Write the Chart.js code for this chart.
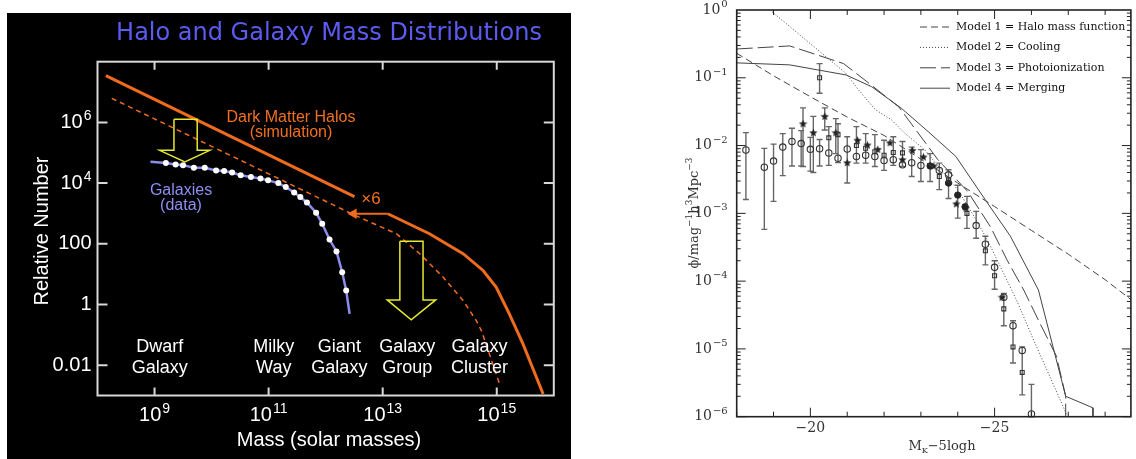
<!DOCTYPE html>
<html>
<head>
<meta charset="utf-8">
<script src="https://cdn.jsdelivr.net/npm/chart.js@4.4.0/dist/chart.umd.min.js"></script>
<style>
  body { margin: 0; background: #fff; width: 1136px; height: 459px; overflow: hidden; position: relative; }
  #massChart { position: absolute; left: 7px; top: 13px; background: #000; }
  #lumChart { position: absolute; left: 660px; top: 0; background: #fff; }
</style>
</head>
<body>
<canvas id="massChart" width="564" height="446"></canvas>
<canvas id="lumChart" width="476" height="459"></canvas>
<script>
// ---------- left panel: halo and galaxy mass distributions ----------
const massTicks = [1e9, 1e11, 1e13, 1e15];
const massTickLabels = ['10^9', '10^11', '10^13', '10^15'];
const numTicks = [1e6, 1e4, 100, 1, 0.01];
const numTickLabels = ['10^6', '10^4', '100', '1', '0.01'];

// dark matter halos (simulation), dashed
const haloMass = [1.78e8, 3.24e12, 1.74e13, 4.47e13, 1.15e14, 2.57e14, 4.37e14, 5.37e14, 1.12e15];
const haloNum = [6.2e6, 871, 214, 46.8, 7.9, 1.35, 0.295, 0.138, 2.4e-3];
// halos x6, solid (upper piece and the piece after the arrow)
const halo6UpMass = [1.4e8, 3.2e12];
const halo6UpNum = [3.5e7, 3.6e3];
const halo6LowMass = [1.23e13, 6.6e13, 2.57e14, 5.75e14, 9.8e14, 1.66e15, 2.88e15, 6.5e15];
const halo6LowNum = [977, 214, 47, 13.2, 3.7, 0.49, 0.05, 1.12e-3];
const x6ArrowMass = [1.23e13, 3.1e12];
const x6ArrowNum = [977, 977];
// galaxies (data)
const galMass = [8.5e8, 1.58e9, 2.34e9, 3.16e9, 4.9e9, 7.6e9, 1.2e10, 1.66e10, 2.29e10, 3.24e10, 4.9e10, 7.2e10,
  9.8e10, 1.48e11, 2.0e11, 2.8e11, 3.6e11, 4.7e11, 6.8e11, 8.7e11, 1.17e12, 1.55e12, 1.95e12, 2.29e12, 2.63e12];
const galNum = [5.0e4, 4.6e4, 4.1e4, 3.9e4, 3.2e4, 3.2e4, 2.6e4, 2.5e4, 2.24e4, 1.82e4, 1.58e4, 1.41e4,
  1.23e4, 1.0e4, 7.4e3, 4.9e3, 3.5e3, 2.3e3, 1.05e3, 457, 138, 56, 11.5, 2.9, 0.49];
// hollow yellow arrows
const arrow1Mass = [2.19e9, 5.6e9, 5.6e9, 9.3e9, 3.4e9, 1.23e9, 2.19e9, 2.19e9];
const arrow1Num = [1.26e6, 1.26e6, 1.2e5, 1.2e5, 5.0e4, 1.2e5, 1.2e5, 1.26e6];
const arrow2Mass = [2.0e13, 5.1e13, 5.1e13, 8.5e13, 3.16e13, 1.2e13, 2.0e13, 2.0e13];
const arrow2Num = [120, 120, 1.41, 1.41, 0.31, 1.41, 1.41, 120];

const sizeNames = [['Dwarf', 'Galaxy'], ['Milky', 'Way'], ['Giant', 'Galaxy'], ['Galaxy', 'Group'], ['Galaxy', 'Cluster']];
const sizeMass = [1.23e9, 1.23e11, 1.74e12, 2.7e13, 5.0e14];

// ---------- right panel: K-band luminosity function ----------
const magTickVals = [-20, -25];
const magTickLabels = ['\u221220', '\u221225'];
const phiTickVals = [1, 0.1, 0.01, 1e-3, 1e-4, 1e-5, 1e-6];
const phiTickLabels = ['10^0', '10^\u22121', '10^\u22122', '10^\u22123', '10^\u22124', '10^\u22125', '10^\u22126'];

const modelNames = ['Model 1 = Halo mass function', 'Model 2 = Cooling', 'Model 3 = Photoionization', 'Model 4 = Merging'];
const m1Mag = [-18, -19, -20, -21, -22, -23, -24, -25, -26, -27, -28, -29];
const m1Phi = [0.23, 0.107, 0.0525, 0.0263, 0.0141, 6.3e-3, 2.8e-3, 1.26e-3, 5.6e-4, 2.5e-4, 1.05e-4, 4.0e-5];
const m2Mag = [-18.9, -20.96, -21.31, -21.76, -22.2, -22.57, -23.1, -23.55, -24.0, -24.45, -24.8, -25.16, -25.6, -26.06, -26.5, -26.9, -26.97];
const m2Phi = [1.0, 0.117, 0.066, 0.034, 0.024, 0.0151, 8.7e-3, 4.4e-3, 2.24e-3, 8.9e-4, 4.1e-4, 1.62e-4, 5.2e-5, 1.35e-5, 3.9e-6, 1.26e-6, 1.0e-6];
const m3Mag = [-18.0, -19.44, -20.9, -21.66, -22.4, -22.66, -23.46, -24.27, -24.89, -25.34, -25.79, -26.23, -26.68, -26.93, -26.93];
const m3Phi = [0.266, 0.295, 0.162, 0.0776, 0.0372, 0.024, 6.2e-3, 2.1e-3, 6.3e-4, 2.04e-4, 7.4e-5, 2.4e-5, 7.8e-6, 2.0e-6, 1.0e-6];
const m4Mag = [-18.0, -19.44, -20.97, -21.66, -22.47, -23.19, -23.95, -24.62, -25.0, -25.43, -26.19, -26.93, -27.67, -27.67];
const m4Phi = [0.166, 0.155, 0.11, 0.074, 0.0355, 0.0162, 6.9e-3, 2.0e-3, 1.0e-3, 4.6e-4, 7.4e-5, 2.0e-6, 1.35e-6, 1.0e-6];

// observed points
const circMag = [-18.25, -18.75, -19, -19.25, -19.5, -19.75, -20, -20.25, -20.5, -20.75, -21, -21.25, -21.5, -21.75,
  -22, -22.25, -22.5, -22.75, -23, -23.5, -23.75, -24.5, -24.75, -25, -25.25, -25.5, -25.75, -26];
const circPhi = [8.6e-3, 4.8e-3, 5.9e-3, 9.5e-3, 1.15e-2, 1.07e-2, 8.8e-3, 9.0e-3, 7.8e-3, 6.5e-3, 8.9e-3, 6.9e-3, 7.2e-3, 6.9e-3,
  6.0e-3, 6.2e-3, 5.2e-3, 5.6e-3, 5.1e-3, 4.3e-3, 3.7e-3, 6.6e-4, 3.5e-4, 1.6e-4, 5.8e-5, 2.2e-5, 9.5e-6, 1.1e-6];
const sqMag = [-20.25, -20.5, -20.75, -21.25, -21.5, -21.75, -22, -22.25, -22.5, -23.5, -23.75, -24.25, -24.75, -25, -25.25, -25.5, -25.75];
const sqPhi = [0.1, 1.3e-2, 1.45e-2, 1.0e-2, 9.1e-3, 8.1e-3, 7.2e-3, 7.9e-3, 7.8e-3, 3.5e-3, 3.1e-3, 1.0e-3, 2.8e-4, 1.2e-4, 3.9e-5, 1.07e-5, 4.5e-6];
const starMag = [-19.8, -20.08, -20.39, -20.69, -21.0, -21.28, -21.55, -21.83, -22.16, -22.5, -22.77, -23.07, -23.35, -23.96, -24.22, -25.2];
const starPhi = [2.1e-2, 1.55e-2, 2.7e-2, 1.55e-2, 5.6e-3, 1.2e-2, 1.02e-2, 8.8e-3, 1.1e-2, 6.2e-3, 8.5e-3, 6.8e-3, 5.0e-3, 1.38e-3, 1.2e-3, 5.8e-5];
const dotMag = [-23.25, -23.75, -24.0, -24.2];
const dotPhi = [5.0e-3, 2.8e-3, 1.86e-3, 1.25e-3];
const errMag = [-18.25, -18.75, -19, -19.25, -19.5, -19.75, -19.8, -20, -20.08, -20.25, -20.25, -20.39, -20.5, -20.69, -20.75, -21,
  -21.25, -21.5, -21.75, -22, -22.25, -22.5, -22.75, -23, -23.25, -23.5, -23.75, -24, -24.25, -24.5, -24.75, -25, -25.25, -25.5, -25.75, -26];
const errLo = [1.6e-3, 5.8e-4, 1.5e-3, 3.6e-3, 5.0e-3, 5.0e-3, 4.9e-3, 4.2e-3, 4.0e-3, 5.0e-3, 5.9e-2, 1.7e-2, 5.1e-3, 7.6e-3, 5.6e-3, 2.8e-3,
  5.5e-3, 5.5e-3, 4.9e-3, 4.3e-3, 5.1e-3, 4.9e-3, 3.5e-3, 2.95e-3, 2.95e-3, 2.24e-3, 1.66e-3, 8.5e-4, 6.0e-4, 4.3e-4, 1.74e-4, 7.6e-5, 2.2e-5, 6.2e-6, 2.1e-6, 1.0e-6];
const errHi = [1.55e-2, 9.1e-3, 1.05e-2, 1.5e-2, 1.8e-2, 1.66e-2, 3.6e-2, 1.32e-2, 2.7e-2, 1.23e-2, 1.62e-1, 3.6e-2, 1.9e-2, 2.5e-2, 2.1e-2, 1.35e-2,
  1.9e-2, 1.5e-2, 1.45e-2, 1.2e-2, 1.35e-2, 1.15e-2, 9.5e-3, 8.7e-3, 7.6e-3, 5.5e-3, 4.4e-3, 2.6e-3, 1.78e-3, 1.07e-3, 4.6e-4, 2.0e-4, 6.6e-5, 2.6e-5, 1.07e-5, 3.0e-6];

function pts(xs, ys) {
  return xs.map((x, i) => ({ x: x, y: ys[i] }));
}

// "10^6" -> 10 with a raised exponent
function drawPow(ctx, label, x, y, size, family, align, raise) {
  const parts = label.split('^');
  const small = Math.round(size * 0.68);
  ctx.font = size + 'px ' + family;
  const w1 = ctx.measureText(parts[0]).width;
  let w2 = 0;
  if (parts[1]) {
    ctx.font = small + 'px ' + family;
    w2 = ctx.measureText(parts[1]).width + 1;
  }
  let x0 = x;
  if (align === 'right') x0 = x - w1 - w2;
  if (align === 'center') x0 = x - (w1 + w2) / 2;
  ctx.textAlign = 'left';
  ctx.textBaseline = 'middle';
  ctx.font = size + 'px ' + family;
  ctx.fillText(parts[0], x0, y);
  if (parts[1]) {
    ctx.font = small + 'px ' + family;
    ctx.fillText(parts[1], x0 + w1 + 1, y - size * raise);
  }
}

const SANS = '"Liberation Sans", Arial, sans-serif';

const massDecor = {
  id: 'massDecor',
  afterDraw(chart) {
    const ctx = chart.ctx;
    const a = chart.chartArea;
    const xs = chart.scales.x, ys = chart.scales.y;
    ctx.save();
    // frame and inward ticks
    ctx.strokeStyle = '#d8d8d8';
    ctx.lineWidth = 2;
    ctx.strokeRect(a.left, a.top, a.right - a.left, a.bottom - a.top);
    ctx.beginPath();
    numTicks.forEach(v => {
      const py = ys.getPixelForValue(v);
      ctx.moveTo(a.left, py); ctx.lineTo(a.left + 10, py);
      ctx.moveTo(a.right, py); ctx.lineTo(a.right - 10, py);
    });
    massTicks.forEach(v => {
      const px = xs.getPixelForValue(v);
      ctx.moveTo(px, a.top); ctx.lineTo(px, a.top + 8);
      ctx.moveTo(px, a.bottom); ctx.lineTo(px, a.bottom - 8);
    });
    ctx.stroke();

    ctx.fillStyle = '#fff';
    numTicks.forEach((v, i) => drawPow(ctx, numTickLabels[i], a.left - 6, ys.getPixelForValue(v), 20, SANS, 'right', 0.3));
    massTicks.forEach((v, i) => drawPow(ctx, massTickLabels[i], xs.getPixelForValue(v), a.bottom + 20, 20, SANS, 'center', 0.3));

    ctx.textAlign = 'center';
    ctx.textBaseline = 'middle';
    ctx.font = '20px ' + SANS;
    ctx.fillText('Mass (solar masses)', 322, 427);
    ctx.save();
    ctx.translate(35, 218);
    ctx.rotate(-Math.PI / 2);
    ctx.fillText('Relative Number', 0, 0);
    ctx.restore();

    // size classes along the bottom
    ctx.font = '18px ' + SANS;
    sizeNames.forEach((lines, i) => {
      const px = xs.getPixelForValue(sizeMass[i]);
      ctx.fillText(lines[0], px, a.bottom - 48);
      ctx.fillText(lines[1], px, a.bottom - 27);
    });

    ctx.fillStyle = '#f07020';
    ctx.font = '16px ' + SANS;
    ctx.fillText('Dark Matter Halos', 284, 105);
    ctx.fillText('(simulation)', 284, 120);
    ctx.font = '17px ' + SANS;
    ctx.fillText('\u00d76', 364, 186);

    ctx.fillStyle = '#8e8ef0';
    ctx.font = '16px ' + SANS;
    ctx.fillText('Galaxies', 174, 178);
    ctx.fillText('(data)', 174, 193);

    ctx.fillStyle = '#5b5bf2';
    ctx.font = '24px "DejaVu Sans", sans-serif';
    ctx.fillText('Halo and Galaxy Mass Distributions', 322, 21);
    ctx.restore();
  }
};

const ORANGE = '#ef6c1e';
const YELLOW = '#e8e830';

new Chart(document.getElementById('massChart'), {
  type: 'scatter',
  data: {
    datasets: [
      { data: pts(arrow1Mass, arrow1Num), showLine: true, borderColor: YELLOW, borderWidth: 1.5, pointRadius: 0 },
      { data: pts(arrow2Mass, arrow2Num), showLine: true, borderColor: YELLOW, borderWidth: 1.5, pointRadius: 0 },
      { data: pts(haloMass, haloNum), showLine: true, borderColor: ORANGE, borderWidth: 1.5, borderDash: [5, 4], pointRadius: 0 },
      { data: pts(halo6UpMass, halo6UpNum), showLine: true, borderColor: ORANGE, borderWidth: 3, pointRadius: 0 },
      { data: pts(halo6LowMass, halo6LowNum), showLine: true, borderColor: ORANGE, borderWidth: 3, pointRadius: 0 },
      { data: pts(x6ArrowMass, x6ArrowNum), showLine: true, borderColor: ORANGE, borderWidth: 2, backgroundColor: ORANGE,
        pointStyle: 'triangle', rotation: -90,
        pointRadius: c => c.dataIndex === 1 ? 4 : 0 },
      { data: pts(galMass, galNum), showLine: true, borderColor: '#8c8cea', borderWidth: 2.5,
        pointBackgroundColor: '#fff', pointBorderColor: '#fff', pointBorderWidth: 0,
        pointRadius: c => (c.dataIndex === 0 || c.dataIndex === galMass.length - 1) ? 0 : 3 }
    ]
  },
  options: {
    responsive: false,
    animation: false,
    layout: { padding: { left: 90.5, top: 48.7, right: 17.2, bottom: 63.5 } },
    plugins: { legend: { display: false }, tooltip: { enabled: false } },
    scales: {
      x: { type: 'logarithmic', min: 1e8, max: 1e16, display: false },
      y: { type: 'logarithmic', min: 1e-3, max: 1e8, display: false }
    }
  },
  plugins: [massDecor]
});

// ---------- right panel ----------
const SERIF = '"DejaVu Serif", serif';
const INK = '#333';

const starImg = document.createElement('canvas');
starImg.width = 9; starImg.height = 9;
(function () {
  const s = starImg.getContext('2d');
  s.fillStyle = '#222';
  s.beginPath();
  for (let k = 0; k < 10; k++) {
    const r = k % 2 ? 1.9 : 4.4;
    const t = -Math.PI / 2 + k * Math.PI / 5;
    s.lineTo(4.5 + r * Math.cos(t), 4.8 + r * Math.sin(t));
  }
  s.closePath();
  s.fill();
})();

const lumDecor = {
  id: 'lumDecor',
  beforeDatasetsDraw(chart) {
    const ctx = chart.ctx;
    const xs = chart.scales.x, ys = chart.scales.y;
    ctx.save();
    ctx.strokeStyle = '#666';
    ctx.lineWidth = 1.4;
    ctx.beginPath();
    errMag.forEach((m, i) => {
      const px = xs.getPixelForValue(m);
      const y1 = ys.getPixelForValue(errLo[i]), y2 = ys.getPixelForValue(errHi[i]);
      ctx.moveTo(px, y1); ctx.lineTo(px, y2);
      ctx.moveTo(px - 3, y1); ctx.lineTo(px + 3, y1);
      ctx.moveTo(px - 3, y2); ctx.lineTo(px + 3, y2);
    });
    ctx.stroke();
    ctx.restore();
  },
  afterDraw(chart) {
    const ctx = chart.ctx;
    const a = chart.chartArea;
    const xs = chart.scales.x, ys = chart.scales.y;
    ctx.save();
    ctx.strokeStyle = '#222';
    ctx.lineWidth = 1.6;
    ctx.strokeRect(a.left, a.top, a.right - a.left, a.bottom - a.top);
    ctx.lineWidth = 1;
    ctx.beginPath();
    for (let d = -6; d < 0; d++) {
      for (let k = 1; k < 10; k++) {
        const v = k * Math.pow(10, d);
        const py = ys.getPixelForValue(v);
        const len = k === 1 ? 9 : 4;
        ctx.moveTo(a.left, py); ctx.lineTo(a.left + len, py);
        ctx.moveTo(a.right, py); ctx.lineTo(a.right - len, py);
      }
    }
    for (let m = -18; m >= -28; m--) {
      const px = xs.getPixelForValue(m);
      const len = m % 5 === 0 ? 9 : 5;
      ctx.moveTo(px, a.top); ctx.lineTo(px, a.top + len);
      ctx.moveTo(px, a.bottom); ctx.lineTo(px, a.bottom - len);
    }
    ctx.stroke();

    ctx.fillStyle = INK;
    phiTickVals.forEach((v, i) => drawPow(ctx, phiTickLabels[i], a.left - 9, ys.getPixelForValue(v), 14, SERIF, 'right', 0.4));
    ctx.font = '14px ' + SERIF;
    ctx.textAlign = 'center';
    ctx.textBaseline = 'middle';
    magTickVals.forEach((v, i) => ctx.fillText(magTickLabels[i], xs.getPixelForValue(v), a.bottom + 12));

    // x title: M_K - 5logh
    ctx.textAlign = 'left';
    ctx.font = '13px ' + SERIF;
    const wM = ctx.measureText('M').width;
    ctx.font = '8px ' + SERIF;
    const wK = ctx.measureText('K').width;
    ctx.font = '13px ' + SERIF;
    const wR = ctx.measureText('\u22125logh').width;
    let x0 = 282 - (wM + wK + wR) / 2;
    ctx.fillText('M', x0, 447);
    ctx.font = '8px ' + SERIF;
    ctx.fillText('K', x0 + wM, 451);
    ctx.font = '13px ' + SERIF;
    ctx.fillText('\u22125logh', x0 + wM + wK, 447);

    // y title: phi/mag^-1 h^3 Mpc^-3
    ctx.save();
    ctx.translate(35, 213);
    ctx.rotate(-Math.PI / 2);
    const bits = [['\u03d5/mag', 0], ['\u22121', 1], ['h', 0], ['3', 1], ['Mpc', 0], ['\u22123', 1]];
    let tw = 0;
    bits.forEach(b => { ctx.font = (b[1] ? 9 : 13) + 'px ' + SERIF; tw += ctx.measureText(b[0]).width; });
    let cx = -tw / 2;
    bits.forEach(b => {
      ctx.font = (b[1] ? 9 : 13) + 'px ' + SERIF;
      ctx.fillText(b[0], cx, b[1] ? -5 : 0);
      cx += ctx.measureText(b[0]).width;
    });
    ctx.restore();

    // legend
    const dashes = [[7, 4], [1, 2], [16, 5], []];
    ctx.strokeStyle = '#444';
    ctx.lineWidth = 1;
    ctx.font = '11px ' + SERIF;
    ctx.fillStyle = '#111';
    modelNames.forEach((name, i) => {
      const y = 27 + i * 20.4;
      ctx.setLineDash(dashes[i]);
      ctx.beginPath();
      ctx.moveTo(260, y); ctx.lineTo(290, y);
      ctx.stroke();
      ctx.setLineDash([]);
      ctx.fillText(name, 296, y);
    });
    ctx.restore();
  }
};

const LINE = '#444';
new Chart(document.getElementById('lumChart'), {
  type: 'scatter',
  data: {
    datasets: [
      { data: pts(m1Mag, m1Phi), showLine: true, borderColor: LINE, borderWidth: 1, borderDash: [7, 4], pointRadius: 0 },
      { data: pts(m2Mag, m2Phi), showLine: true, borderColor: LINE, borderWidth: 1, borderDash: [1, 2], pointRadius: 0 },
      { data: pts(m3Mag, m3Phi), showLine: true, borderColor: LINE, borderWidth: 1, borderDash: [16, 5], pointRadius: 0 },
      { data: pts(m4Mag, m4Phi), showLine: true, borderColor: LINE, borderWidth: 1, pointRadius: 0 },
      { data: pts(circMag, circPhi), pointStyle: 'circle', pointRadius: 3.2, pointBorderWidth: 1.1, pointBorderColor: INK, pointBackgroundColor: 'rgba(0,0,0,0)' },
      { data: pts(sqMag, sqPhi), pointStyle: 'rect', pointRadius: 2.8, pointBorderWidth: 1.1, pointBorderColor: INK, pointBackgroundColor: 'rgba(0,0,0,0)' },
      { data: pts(starMag, starPhi), pointStyle: starImg },
      { data: pts(dotMag, dotPhi), pointStyle: 'circle', pointRadius: 3.2, pointBorderWidth: 1, pointBorderColor: '#222', pointBackgroundColor: '#222' }
    ]
  },
  options: {
    responsive: false,
    animation: false,
    layout: { padding: { left: 76.7, top: 10, right: 1, bottom: 42.3 } },
    plugins: { legend: { display: false }, tooltip: { enabled: false } },
    scales: {
      x: { type: 'linear', min: -28.7, max: -18, reverse: true, display: false },
      y: { type: 'logarithmic', min: 1e-6, max: 1, display: false }
    }
  },
  plugins: [lumDecor]
});
</script>
</body>
</html>
